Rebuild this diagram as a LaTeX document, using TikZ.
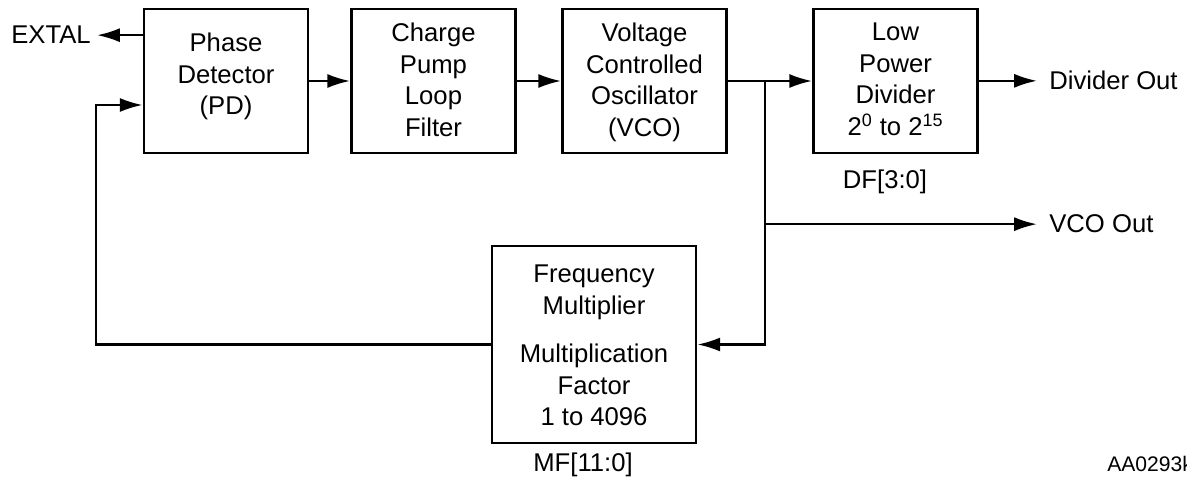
\documentclass[tikz,border=0pt]{standalone}
\usepackage{fontspec}
\setmainfont{Liberation Sans}
\usetikzlibrary{arrows.meta,positioning}
\tikzset{
    blk/.style={draw=black, line width=1.5pt, minimum width=3.28cm, minimum height=2.88cm},
    txt/.style={align=center, inner sep=0pt, font=\fontsize{14.6}{17.9}\selectfont},
    sig/.style={draw=black, line width=1.4pt, -{Latex[length=13pt,width=8pt]}},
    wire/.style={draw=black, line width=1.4pt},
}
\begin{document}
\begin{tikzpicture}[x=0.02cm, y=-0.02cm]
		\useasboundingbox (0,0) rectangle (1187,479);
		% blocks
		\node[blk] (pd) at (226,81) {};
		\node[blk] (cp) at (433.5,81) {};
		\node[blk] (vco) at (644.5,81) {};
		\node[blk] (lpd) at (895.5,81) {};
		\node[blk, minimum width=4.08cm, minimum height=3.94cm] (fm) at (594,344.5) {};
		\node[txt, anchor=north] (pdtxt) at (226,33) {Phase\\Detector\\(PD)};
		\node[txt, anchor=north] (cptxt) at (433.5,23) {Charge\\Pump\\Loop\\Filter};
		\node[txt, anchor=north] (vcotxt) at (644.5,23) {Voltage\\Controlled\\Oscillator\\(VCO)};
		\node[txt, anchor=north] (lpdtxt) at (895.5,23) {Low\\Power\\Divider\\2\textsuperscript{0} to 2\textsuperscript{15}};
		\node[txt, anchor=north] (fmtxt) at (594,265) {Frequency\\Multiplier\\[0.34cm]Multiplication\\Factor\\1 to 4096};
		% labels
		\node[txt, anchor=base east, inner xsep=0.12cm] (extal) at (97,44) {EXTAL};
		\node[txt, anchor=base west, inner xsep=0.24cm] (divout) at (1037,90) {Divider Out};
		\node[txt, anchor=base west, inner xsep=0.24cm] (vcoout) at (1037,233) {VCO Out};
		\node[txt, anchor=base] (df) at (885,189) {DF[3:0]};
		\node[txt, anchor=base] (mf) at (583,472) {MF[11:0]};
		\node[txt, anchor=base west, font=\fontsize{12}{14}\selectfont] (code) at (1107,472) {AA0293k};
		% connections
		\coordinate (fbk) at (96,105);
		\coordinate (tap) at (765,81);
		\draw[sig] (pd.west |- extal.east) -- (extal.east);
		\draw[sig] (pd) -- (cp);
		\draw[sig] (cp) -- (vco);
		\draw[sig] (vco) -- (lpd);
		\draw[sig] (lpd.east |- divout.west) -- (divout.west);
		\draw[sig] (tap) |- (fm.east);
		\draw[sig] (tap |- vcoout.west) -- (vcoout.west);
		\draw[sig] (fm.west) -| (fbk) -- (pd.west |- fbk);
	\end{tikzpicture}
\end{document}
